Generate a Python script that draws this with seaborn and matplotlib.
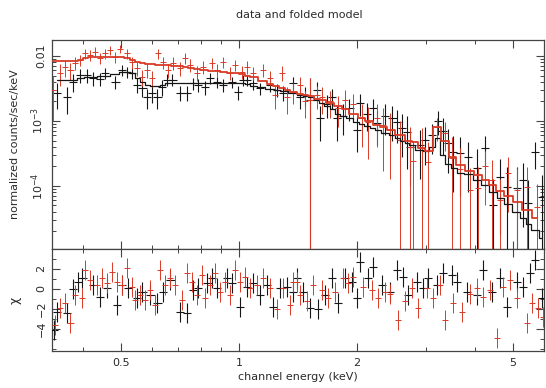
import numpy as np
import matplotlib
matplotlib.use("Agg")
import matplotlib.pyplot as plt
import seaborn as sns
from matplotlib.ticker import FixedLocator, FixedFormatter, NullFormatter

# ---------------- data ----------------
black_E = [0.343, 0.364, 0.377, 0.393, 0.409, 0.424, 0.442, 0.455, 0.483, 0.503,
           0.518, 0.533, 0.549, 0.566, 0.582, 0.600, 0.618, 0.636, 0.655, 0.675,
           0.707, 0.737, 0.763, 0.786, 0.819, 0.843, 0.879, 0.910, 0.960, 0.994,
           1.024, 1.048, 1.086, 1.131, 1.200, 1.250, 1.295, 1.374, 1.431, 1.474,
           1.518, 1.581, 1.609, 1.677, 1.727, 1.778, 1.842, 1.910, 2.000, 2.036,
           2.120, 2.197, 2.249, 2.357, 2.460, 2.530, 2.606, 2.684, 2.731, 2.896,
           2.983, 3.107, 3.218, 3.310, 3.413, 3.515, 3.662, 3.838, 4.047, 4.242,
           4.446, 4.633, 4.828, 5.120, 5.303, 5.461, 5.689, 5.930]
black_F = [0.0027, 0.0023, 0.0040, 0.0051, 0.0051, 0.0046, 0.0044, 0.0055, 0.0040, 0.0061,
           0.0057, 0.0055, 0.0036, 0.0032, 0.0023, 0.0027, 0.0023, 0.0033, 0.0043, 0.0043,
           0.0027, 0.0027, 0.0038, 0.0036, 0.0033, 0.0046, 0.0040, 0.0036, 0.0040, 0.0028,
           0.0043, 0.0043, 0.0038, 0.0032, 0.0036, 0.0030, 0.0027, 0.0038, 0.0023, 0.0025,
           0.0021, 0.0030, 0.0011, 0.0018, 0.0023, 0.0011, 0.0012, 0.0016, 0.00073, 0.0019,
           0.0013, 0.0016, 0.00093, 0.0012, 0.0011, 0.00096, 0.00078, 0.00068, 0.00040, 0.00043,
           0.00051, 0.00061, 0.00100, 0.00070, 0.00046, 0.00033, 0.00032, 0.00028, 0.00019, 0.00038,
           0.000050, 0.000138, 0.000096, 0.000093, 0.000123, 0.000055, 0.00033, 0.000068]
black_err = [0.0012, 0.0010, 0.0012, 0.0012, 0.0012, 0.0011, 0.0010, 0.0011, 0.0009, 0.0012,
             0.0011, 0.0011, 0.0009, 0.0009, 0.0008, 0.0008, 0.0008, 0.0009, 0.0009, 0.0009,
             0.0007, 0.0007, 0.0008, 0.0008, 0.0008, 0.0009, 0.0008, 0.0008, 0.0008, 0.0007,
             0.0008, 0.0008, 0.0008, 0.0007, 0.0008, 0.0007, 0.0007, 0.0009, 0.0008, 0.0008,
             0.0025, 0.0010, 0.0006, 0.0007, 0.0008, 0.0006, 0.0006, 0.0006, 0.0004, 0.0007,
             0.0006, 0.0006, 0.0005, 0.0006, 0.0006, 0.0005, 0.0005, 0.0005, 0.0003, 0.0003,
             0.0003, 0.0003, 0.0004, 0.0004, 0.0003, 0.00025, 0.00025, 0.0002, 0.00018, 0.0002,
             0.00008, 0.00012, 0.0001, 0.0001, 0.0001, 0.00007, 0.00015, 0.00008]
black_model = [0.0042, 0.0042, 0.0042, 0.0045, 0.0047, 0.0048, 0.0049, 0.0050, 0.0053, 0.0056,
               0.0057, 0.0054, 0.0046, 0.0040, 0.0036, 0.0035, 0.0035, 0.0036, 0.0038, 0.0039,
               0.0039, 0.0039, 0.0039, 0.0039, 0.0039, 0.0039, 0.0039, 0.0039, 0.0039, 0.0038,
               0.0038, 0.0037, 0.0035, 0.0033, 0.0031, 0.0030, 0.0029, 0.0027, 0.0025, 0.0024,
               0.0023, 0.0021, 0.0019, 0.0017, 0.0015, 0.0013, 0.0012, 0.0011, 0.00095, 0.00090,
               0.00084, 0.00078, 0.00072, 0.00066, 0.00060, 0.00055, 0.00050, 0.00045, 0.00042, 0.00036,
               0.00034, 0.00040, 0.00055, 0.00030, 0.00022, 0.00019, 0.00016, 0.00015, 0.000125, 0.000105,
               0.000080, 0.000065, 0.000052, 0.000040, 0.000032, 0.000026, 0.000021, 0.000016]

red_E = [0.335, 0.349, 0.360, 0.371, 0.382, 0.393, 0.405, 0.417, 0.429, 0.442,
         0.455, 0.469, 0.483, 0.497, 0.518, 0.533, 0.549, 0.566, 0.582, 0.600,
         0.621, 0.640, 0.659, 0.679, 0.707, 0.728, 0.750, 0.781, 0.809, 0.853,
         0.879, 0.910, 0.948, 0.977, 1.018, 1.048, 1.086, 1.151, 1.200, 1.236,
         1.287, 1.326, 1.374, 1.431, 1.474, 1.518, 1.581, 1.628, 1.707, 1.789,
         1.864, 1.953, 2.060, 2.133, 2.249, 2.330, 2.427, 2.575, 2.731, 2.780,
         2.930, 3.036, 3.200, 3.354, 3.494, 3.662, 3.884, 4.070, 4.242, 4.420,
         4.633, 4.856, 5.120, 5.429, 5.757]
red_F = [0.0030, 0.0055, 0.0068, 0.0060, 0.0078, 0.0087, 0.0110, 0.0104, 0.0115, 0.0093,
         0.0110, 0.0124, 0.0097, 0.0130, 0.0110, 0.0081, 0.0065, 0.0048, 0.0061, 0.0046,
         0.0110, 0.0081, 0.0061, 0.0078, 0.0065, 0.0093, 0.0073, 0.0055, 0.0068, 0.0078,
         0.0061, 0.0081, 0.0055, 0.0073, 0.0057, 0.0068, 0.0055, 0.0061, 0.0046, 0.0025,
         0.0055, 0.0023, 0.0028, 0.0036, 0.0020, 0.0021, 0.0025, 0.0023, 0.0020, 0.0016,
         0.0021, 0.0018, 0.0011, 0.00096, 0.0011, 0.00087, 0.00073, 0.00051, 0.00040, 0.00024,
         0.00038, 0.00023, 0.00080, 0.00065, 0.00027, 0.00018, 0.000087, 0.000093, 0.00020, 0.000123,
         0.000060, 0.00016, 0.000087, 0.000096, 0.000047]
red_err = [0.0020, 0.0020, 0.0020, 0.0018, 0.0018, 0.0018, 0.0020, 0.0020, 0.0020, 0.0018,
           0.0020, 0.0020, 0.0018, 0.0020, 0.0020, 0.0017, 0.0015, 0.0013, 0.0015, 0.0013,
           0.0020, 0.0017, 0.0015, 0.0017, 0.0015, 0.0018, 0.0016, 0.0014, 0.0015, 0.0016,
           0.0014, 0.0016, 0.0013, 0.0015, 0.0013, 0.0015, 0.0013, 0.0014, 0.0012, 0.0010,
           0.0014, 0.0010, 0.0010, 0.0011, 0.0009, 0.0025, 0.0010, 0.0010, 0.0009, 0.0008,
           0.0009, 0.0008, 0.0007, 0.0007, 0.0007, 0.0007, 0.0006, 0.0005, 0.0004, 0.00025,
           0.0004, 0.00025, 0.0003, 0.0003, 0.0003, 0.0002, 0.0001, 0.0001, 0.00015, 0.00013,
           0.00007, 0.00012, 0.0001, 0.0001, 0.00006]
red_model = [0.0085, 0.0085, 0.0085, 0.0085, 0.0085, 0.0088, 0.0093, 0.0095, 0.0096, 0.0096,
             0.0096, 0.0096, 0.0096, 0.0095, 0.0093, 0.0088, 0.0082, 0.0078, 0.0076, 0.0074,
             0.0073, 0.0073, 0.0072, 0.0071, 0.0069, 0.0067, 0.0065, 0.0063, 0.0061, 0.0059,
             0.0058, 0.0057, 0.0055, 0.0054, 0.0052, 0.0050, 0.0047, 0.0041, 0.0037, 0.0035,
             0.0032, 0.0030, 0.0028, 0.0026, 0.0025, 0.0024, 0.0022, 0.0021, 0.0019, 0.0017,
             0.0015, 0.0013, 0.0011, 0.0010, 0.00088, 0.00080, 0.00072, 0.00060, 0.00050, 0.00047,
             0.00039, 0.00035, 0.00080, 0.00050, 0.00028, 0.00021, 0.00017, 0.000145, 0.000125, 0.000105,
             0.000085, 0.000070, 0.000056, 0.000042, 0.000032]

res_black_E = [0.336, 0.343, 0.364, 0.377, 0.388, 0.398, 0.424, 0.442, 0.460, 0.488,
               0.503, 0.521, 0.549, 0.566, 0.593, 0.618, 0.640, 0.667, 0.707, 0.737,
               0.763, 0.786, 0.829, 0.853, 0.879, 0.932, 0.960, 1.006, 1.048, 1.086,
               1.131, 1.179, 1.221, 1.272, 1.326, 1.374, 1.406, 1.457, 1.518, 1.590,
               1.657, 1.727, 1.789, 1.864, 1.942, 2.000, 2.036, 2.133, 2.197, 2.316,
               2.427, 2.530, 2.621, 2.699, 2.846, 2.948, 3.036, 3.200, 3.314, 3.494,
               3.598, 3.816, 4.047, 4.193, 4.420, 4.633, 4.828, 5.120, 5.303, 5.525,
               5.689, 5.928]
res_black_chi = [-4.1, -2.3, -2.4, 0.0, 0.7, 1.1, 0.4, -0.8, 0.1, -1.6,
                 0.4, 0.1, -0.9, -0.3, -0.6, -1.4, -0.3, 0.9, -2.3, -2.4,
                 -0.1, 0.1, 0.6, 1.1, 0.1, 1.1, 0.6, -1.8, 0.2, 0.6,
                 -0.6, 0.4, -1.8, 0.1, 0.2, -0.3, 1.1, -0.3, -1.9, -2.0,
                 -0.6, 1.1, -1.4, 1.1, 0.7, -0.9, 2.7, 1.1, 2.2, 0.4,
                 -0.3, 1.9, 1.2, -0.6, 0.7, 0.1, 1.1, 0.4, 1.6, 1.4,
                 0.7, -0.3, -0.6, 1.9, -0.3, 1.1, -1.8, 0.7, 0.2, 1.6,
                 2.9, -0.9]

res_red_E = [0.339, 0.349, 0.360, 0.371, 0.382, 0.398, 0.405, 0.417, 0.434, 0.447,
             0.460, 0.474, 0.488, 0.503, 0.518, 0.533, 0.543, 0.559, 0.576, 0.593,
             0.611, 0.629, 0.647, 0.667, 0.687, 0.715, 0.737, 0.759, 0.781, 0.804,
             0.819, 0.843, 0.869, 0.894, 0.921, 0.948, 0.977, 1.006, 1.036, 1.067,
             1.111, 1.151, 1.200, 1.250, 1.295, 1.349, 1.374, 1.406, 1.431, 1.491,
             1.545, 1.628, 1.687, 1.758, 1.842, 1.897, 1.953, 2.072, 2.184, 2.262,
             2.357, 2.427, 2.545, 2.652, 2.763, 2.862, 3.018, 3.126, 3.256, 3.354,
             3.515, 3.706, 3.884, 4.047, 4.193, 4.369, 4.552, 4.716, 4.914, 5.120,
             5.429, 5.590, 5.790, 5.963]
res_red_chi = [-3.6, -1.9, -1.4, -3.4, -0.6, -0.9, 1.9, 0.9, 0.4, 1.1,
               0.6, 1.7, 0.7, 0.4, 2.1, 0.2, -1.1, -0.6, -1.1, -0.1,
               -1.6, 1.9, 0.4, 1.1, 0.4, -1.1, 1.6, 0.7, -0.6, 1.4,
               -0.9, 0.4, 1.6, -0.3, 0.7, -0.6, 1.9, 0.7, 1.2, 0.1,
               0.4, 1.1, 0.1, -2.0, 0.1, -1.6, 0.7, 0.7, -0.6, -1.2,
               0.4, -0.1, -0.9, -0.3, 1.1, 0.6, 1.2, 0.2, -0.1, -0.9,
               -0.3, -0.5, -3.1, -1.2, 0.1, -1.9, 0.1, -0.9, 0.4, -3.1,
               -1.4, -2.3, -0.5, 0.1, -0.8, -0.1, -4.9, 0.2, 0.9, -0.9,
               -3.4, -1.4, -1.9, -2.8]

x_ticks = [0.5, 1, 2, 5]
x_ticklabels = ["0.5", "1", "2", "5"]
y_ticks = [0.01, 1e-3, 1e-4]
y_ticklabels = ["0.01", r"$10^{-3}$", r"$10^{-4}$"]
chi_ticks = [-4, -2, 0, 2]
chi_ticklabels = ["\u22124", "\u22122", "0", "2"]

# ---------------- style ----------------
sns.set_theme(style="ticks")
plt.rcParams["font.family"] = ["DejaVu Sans"]
plt.rcParams["axes.linewidth"] = 0.9
plt.rcParams["axes.edgecolor"] = "#444444"

BLACK = "#161616"
RED = "#d93a26"
TXT = "#2a2a2a"
FS = 8

fig = plt.figure(figsize=(5.46, 3.88), dpi=100)
L, R = 52 / 546, 544 / 546
ax1 = fig.add_axes([L, 1 - 249 / 388, R - L, (249 - 40) / 388])
ax2 = fig.add_axes([L, 1 - 351 / 388, R - L, (351 - 249) / 388], sharex=ax1)


def xerr_of(E, h):
    E = np.asarray(E)
    return [E * (1 - 10 ** (-h)), E * (10 ** h - 1)]


def draw_data(ax, E, F, err, color, h, lw):
    E = np.asarray(E); F = np.asarray(F); err = np.asarray(err)
    lower = np.maximum(F - err, 1e-9)
    ax.errorbar(E, F, xerr=xerr_of(E, h), yerr=[F - lower, err], fmt="none",
                ecolor=color, elinewidth=lw, capsize=0, zorder=3)


ax1.set_xscale("log")
ax1.set_yscale("log", nonpositive="clip")

draw_data(ax1, black_E, black_F, black_err, BLACK, 0.011, 0.8)
draw_data(ax1, red_E, red_F, red_err, RED, 0.008, 0.7)

sns.lineplot(x=black_E, y=black_model, ax=ax1, color=BLACK, lw=0.9,
             drawstyle="steps-mid", estimator=None, sort=True, zorder=4)
sns.lineplot(x=red_E, y=red_model, ax=ax1, color=RED, lw=1.3,
             drawstyle="steps-mid", estimator=None, sort=True, zorder=5)

# residuals (chi, error = 1 sigma)
ax2.errorbar(res_black_E, res_black_chi, xerr=xerr_of(res_black_E, 0.011),
             yerr=np.ones(len(res_black_chi)), fmt="none", ecolor=BLACK,
             elinewidth=0.8, capsize=0, zorder=3)
ax2.errorbar(res_red_E, res_red_chi, xerr=xerr_of(res_red_E, 0.008),
             yerr=np.ones(len(res_red_chi)), fmt="none", ecolor=RED,
             elinewidth=0.7, capsize=0, zorder=3)

ax1.set_xlim(0.333, 6.0)
ax1.set_ylim(1.07e-5, 0.0176)
ax2.set_ylim(-6.25, 4.0)

minor_x = [0.4, 0.6, 0.7, 0.8, 0.9, 3, 4, 6]
for ax in (ax1, ax2):
    ax.xaxis.set_major_locator(FixedLocator(x_ticks))
    ax.xaxis.set_minor_locator(FixedLocator(minor_x))
    ax.xaxis.set_minor_formatter(NullFormatter())
    ax.tick_params(which="both", direction="in", top=True, right=True,
                   color="#444444", labelcolor=TXT, labelsize=FS)
    ax.tick_params(which="major", length=6, width=0.8)
    ax.tick_params(which="minor", length=3, width=0.7)
    ax.grid(False)

ax1.tick_params(axis="x", labelbottom=False)
ax2.xaxis.set_major_formatter(FixedFormatter(x_ticklabels))
ax2.tick_params(axis="x", pad=5)

ax1.yaxis.set_major_locator(FixedLocator(y_ticks))
ax1.yaxis.set_major_formatter(FixedFormatter(y_ticklabels))
minor_y = [m * 10.0 ** d for d in (-5, -4, -3, -2) for m in range(2, 10)]
ax1.yaxis.set_minor_locator(FixedLocator(minor_y))
ax1.yaxis.set_minor_formatter(NullFormatter())

ax2.yaxis.set_major_locator(FixedLocator(chi_ticks))
ax2.yaxis.set_major_formatter(FixedFormatter(chi_ticklabels))
ax2.yaxis.set_minor_locator(FixedLocator([-6, -5, -3, -1, 1, 3]))

for ax in (ax1, ax2):
    for lab in ax.get_yticklabels():
        lab.set_rotation(90)
        lab.set_va("center")
    ax.tick_params(axis="y", pad=4)

ax1.set_ylabel("normalized counts/sec/keV", fontsize=FS, color=TXT)
ax2.set_ylabel("\u03c7", fontsize=FS + 1, color=TXT)
ax1.yaxis.set_label_coords(-0.066, 0.5)
ax2.yaxis.set_label_coords(-0.062, 0.5)
ax2.set_xlabel("channel energy (keV)", fontsize=FS, color=TXT, labelpad=3)

fig.text(0.549, 1 - 15 / 388, "data and folded model", ha="center", va="center",
         fontsize=FS, color=TXT)

fig.savefig("out.png", dpi=100)
